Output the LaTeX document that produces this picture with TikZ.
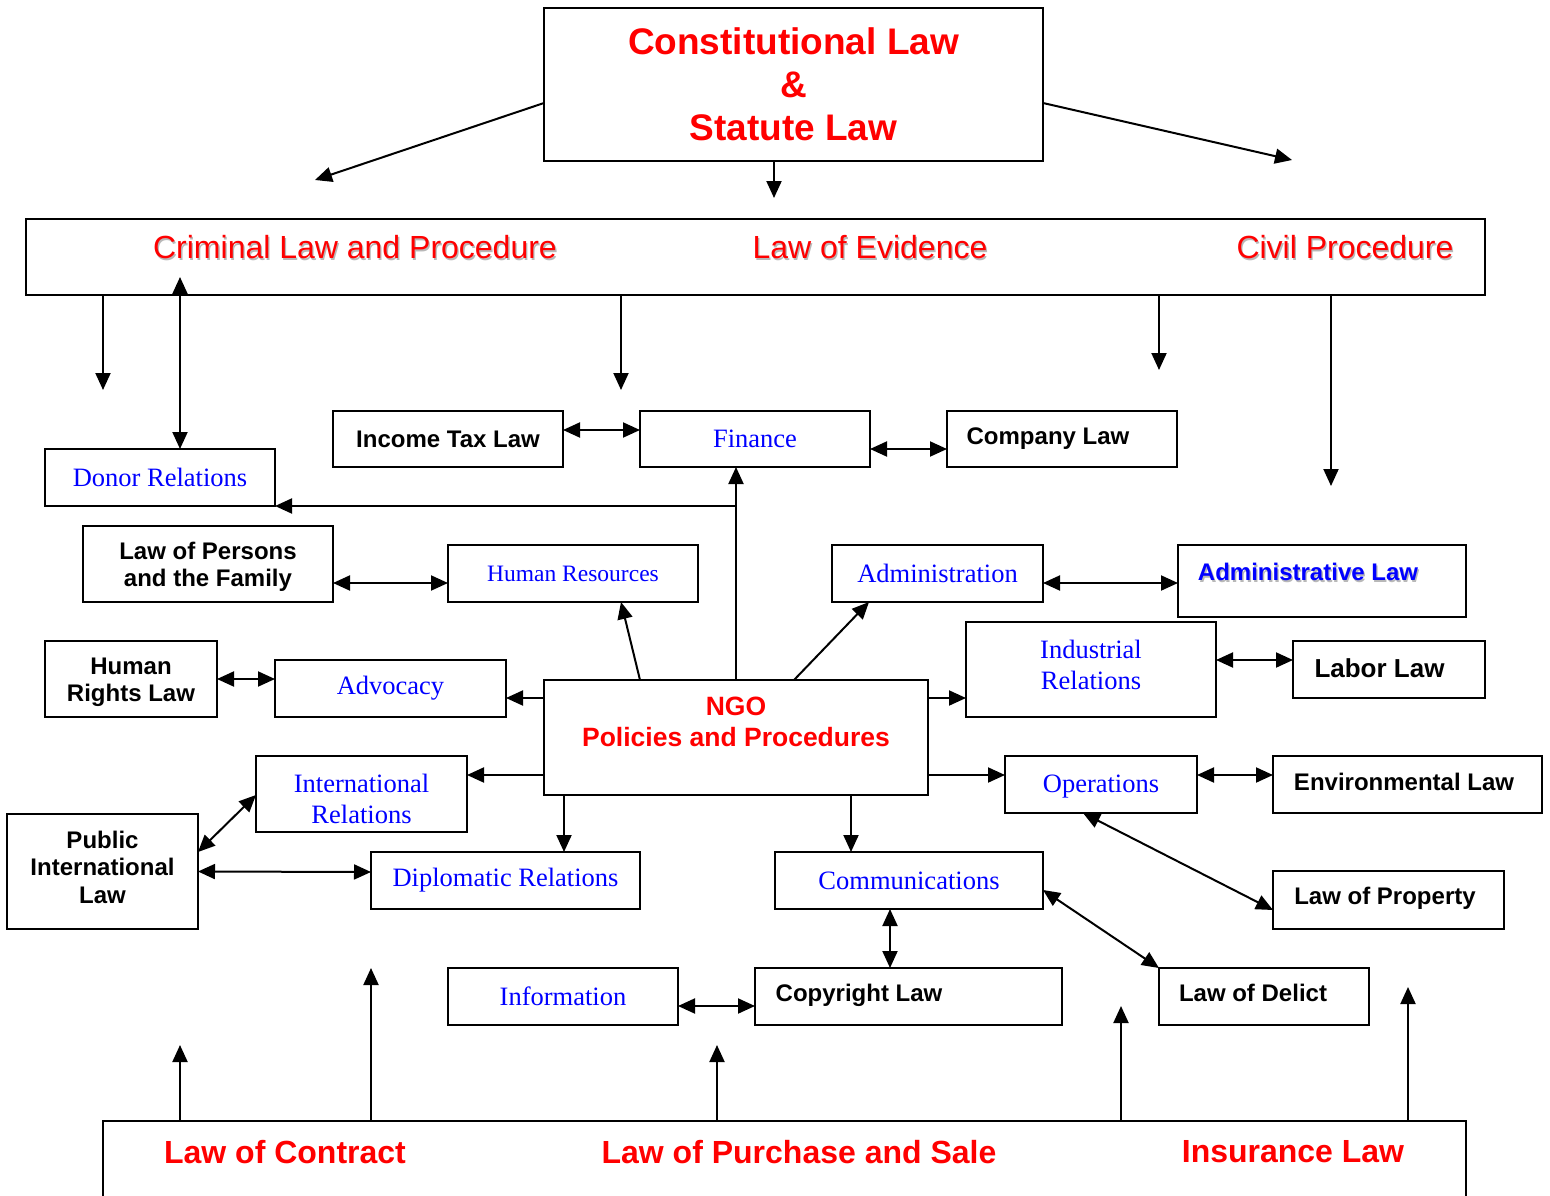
\documentclass[tikz,border=0pt]{standalone}
\usepackage{fontspec}
\setmainfont{Liberation Sans}
\newfontfamily\tmsfont{Liberation Serif}
\usetikzlibrary{arrows.meta}
\newcommand\shd[1]{\makebox[0pt][l]{\kern1.3pt\raisebox{-1.3pt}{\textcolor{black!28}{#1}}}#1}
\begin{document}
\begin{tikzpicture}[x=1pt,y=-1pt,
  every node/.style={inner sep=0pt, outer sep=0pt},
  bx/.style={draw, line width=2pt, align=center},
  lawfont/.style={font=\bfseries\fontsize{24}{27.5}\selectfont, align=center},
  deptfont/.style={text=blue, font=\tmsfont\fontsize{26.5}{31}\selectfont, align=center},
  law/.style={bx, lawfont},
  dept/.style={bx, deptfont},
  >={Triangle[length=17pt,width=15pt]},
  arr/.style={->, line width=2pt},
  dbl/.style={<->, line width=2pt},
  bandtext/.style={text=red, font=\fontsize{32}{36}\selectfont},
  bottext/.style={text=red, font=\bfseries\fontsize{32}{36}\selectfont},
]
\clip (0,0) rectangle (1550,1196);
\fill[white] (0,0) rectangle (1550,1196);

% ---- top and band ----
\node[bx, minimum width=499pt, minimum height=153pt, text=red,
      font=\bfseries\fontsize{37}{43}\selectfont] (const) at (793.5,84.5)
      {Constitutional Law\\\&\\Statute Law};
\node[bx, minimum width=1459pt, minimum height=76pt] (band) at (755.5,257) {};
\node[bandtext] (crimT) at (355,248) {\shd{Criminal Law and Procedure}};
\node[bandtext] (evidT) at (870,248) {\shd{Law of Evidence}};
\node[bandtext] (civT) at (1345,248) {\shd{Civil Procedure}};

% ---- boxes ----
\node[law, minimum width=230pt, minimum height=56pt] (income) at (448,439) {Income Tax Law};
\node[dept, minimum width=230pt, minimum height=56pt] (finance) at (755,439) {Finance};
\node[bx, minimum width=230pt, minimum height=56pt] (company) at (1062,439) {};
\node[lawfont] (companyT) at (1048,439) {Company Law};
\node[dept, minimum width=230pt, minimum height=57pt] (donor) at (160,477.5) {Donor Relations};
\node[bx, minimum width=250pt, minimum height=76pt] (persons) at (208,564) {};
\node[lawfont] (personsT) at (208,567) {Law of Persons\\and the Family};
\node[bx, deptfont, font=\tmsfont\fontsize{23.5}{27}\selectfont, minimum width=250pt, minimum height=57pt] (hr) at (573,573.5) {Human Resources};
\node[dept, minimum width=211pt, minimum height=57pt] (admin) at (937.5,573.5) {Administration};
\node[bx, minimum width=288pt, minimum height=72pt] (adminlaw) at (1322,581) {};
\node[lawfont, text=blue] (adminlawT) at (1308,573) {\shd{Administrative Law}};
\node[bx, minimum width=172pt, minimum height=76pt] (hrl) at (131,679) {};
\node[lawfont] (hrlT) at (131,682.5) {Human\\Rights Law};
\node[dept, minimum width=231pt, minimum height=57pt] (advocacy) at (390.5,688.5) {Advocacy};
\node[bx, minimum width=384pt, minimum height=115pt] (ngo) at (736,737.5) {};
\node[text=red, font=\bfseries\fontsize{26.5}{31}\selectfont, align=center] (ngoT) at (736,722) {NGO\\Policies and Procedures};
\node[bx, minimum width=250pt, minimum height=95pt] (ir) at (1091,669.5) {};
\node[deptfont] (irT) at (1091,665) {Industrial\\Relations};
\node[bx, minimum width=192pt, minimum height=57pt] (labor) at (1389,669.5) {};
\node[font=\bfseries\fontsize{26}{30}\selectfont] (laborT) at (1379.5,668) {Labor Law};
\node[bx, minimum width=211pt, minimum height=76pt] (intrel) at (361.5,794) {};
\node[deptfont] (intrelT) at (361.5,798.5) {International\\Relations};
\node[bx, minimum width=191pt, minimum height=115pt] (pil) at (102.5,871.5) {};
\node[lawfont] (pilT) at (102.5,867) {Public\\International\\Law};
\node[dept, minimum width=269pt, minimum height=57pt] (diplo) at (505.5,880.5) {Diplomatic Relations};
\node[bx, minimum width=192pt, minimum height=57pt] (ops) at (1101,784.5) {};
\node[deptfont] (opsT) at (1101,787) {Operations};
\node[bx, minimum width=269pt, minimum height=57pt] (env) at (1407.5,784.5) {};
\node[lawfont] (envT) at (1404,782) {Environmental Law};
\node[bx, minimum width=231pt, minimum height=58pt] (prop) at (1388.5,900) {};
\node[lawfont] (propT) at (1385,898) {Law of Property};
\node[dept, minimum width=268pt, minimum height=57pt] (comm) at (909,880.5) {Communications};
\node[bx, minimum width=307pt, minimum height=57pt] (copy) at (908.5,996.5) {};
\node[lawfont] (copyT) at (859,995) {Copyright Law};
\node[dept, minimum width=230pt, minimum height=57pt] (info) at (563,996.5) {Information};
\node[bx, minimum width=210pt, minimum height=57pt] (delict) at (1264,996.5) {};
\node[lawfont] (delictT) at (1253,993) {Law of Delict};

% ---- bottom band ----
\node[bx, minimum width=1363pt, minimum height=109pt] (bottom) at (784.5,1175.5) {};
\node[bottext] (contractT) at (285,1152) {Law of Contract};
\node[bottext] (purchT) at (799,1152) {Law of Purchase and Sale};
\node[bottext] (insT) at (1293,1152) {Insurance Law};

% ---- free ends ----
\coordinate (cl) at (315,180);
\coordinate (cr) at (1292,160);
\coordinate (cm) at (774,198);
\coordinate (e1) at (103,390);
\coordinate (e2) at (180,277);
\coordinate (e3) at (621,390);
\coordinate (e4) at (1159,370);
\coordinate (e5) at (1331,486);
\coordinate (b1) at (180,1045);
\coordinate (b2) at (371,968);
\coordinate (b3) at (717,1045);
\coordinate (b4) at (1121,1006);
\coordinate (b5) at (1408,987);

% ---- connectors ----
\draw[arr] ([yshift=-18.5pt]const.west) -- (cl);
\draw[arr] ([yshift=-18.5pt]const.east) -- (cr);
\draw[arr] (const.south -| cm) -- (cm);
\draw[arr] (band.south -| e1) -- (e1);
\draw[dbl] (donor.north -| e2) -- (e2);
\draw[arr] (band.south -| e3) -- (e3);
\draw[arr] (band.south -| e4) -- (e4);
\draw[arr] (band.south -| e5) -- (e5);

\draw[dbl] ([yshift=9pt]income.east) -- ([yshift=9pt]finance.west);
\draw[dbl] ([yshift=-10pt]finance.east) -- ([yshift=-10pt]company.west);
\draw[arr] (ngo.north) -- (ngo.north |- finance.south);
\draw[arr] (ngo.north |- donor.south) -- (donor.south east);
\draw[dbl] ([yshift=-19pt]persons.east) -- ([yshift=-9.5pt]hr.west);
\draw[arr] ([xshift=-96pt]ngo.north) -- ([xshift=48pt]hr.south);
\draw[arr] ([xshift=58pt]ngo.north) -- ([xshift=-68.5pt]admin.south);
\draw[dbl] ([yshift=-9.5pt]admin.east) -- ([yshift=-2pt]adminlaw.west);
\draw[dbl] (hrl.east) -- ([yshift=9.5pt]advocacy.west);
\draw[arr] ([yshift=39.5pt]ngo.west) -- ([yshift=-9.5pt]advocacy.east);
\draw[arr] ([yshift=39.5pt]ngo.east) -- ([yshift=-28.5pt]ir.west);
\draw[dbl] ([yshift=9.5pt]ir.east) -- ([yshift=9.5pt]labor.west);
\draw[arr] ([yshift=-37.5pt]ngo.west) -- ([yshift=19pt]intrel.east);
\draw[dbl] ([yshift=19.5pt]pil.east) -- ([yshift=-1pt]intrel.west);
\draw[dbl] (pil.east) -- ([yshift=8.5pt]diplo.west);
\draw[arr] ([xshift=-172pt]ngo.south) -- ([xshift=58.5pt]diplo.north);
\draw[arr] ([yshift=-37.5pt]ngo.east) -- ([yshift=9.5pt]ops.west);
\draw[dbl] ([yshift=9.5pt]ops.east) -- ([yshift=9.5pt]env.west);
\draw[dbl] ([xshift=-18pt]ops.south) -- ([yshift=-10pt]prop.west);
\draw[arr] ([xshift=115pt]ngo.south) -- ([xshift=-58pt]comm.north);
\draw[dbl] ([xshift=-19pt]comm.south) -- ([xshift=-18.5pt]copy.north);
\draw[dbl] ([yshift=-9.5pt]info.east) -- ([yshift=-9.5pt]copy.west);
\draw[dbl] ([yshift=-9.5pt]comm.east) -- (delict.north west);

\draw[arr] (bottom.north -| b1) -- (b1);
\draw[arr] (bottom.north -| b2) -- (b2);
\draw[arr] (bottom.north -| b3) -- (b3);
\draw[arr] (bottom.north -| b4) -- (b4);
\draw[arr] (bottom.north -| b5) -- (b5);
\end{tikzpicture}
\end{document}
